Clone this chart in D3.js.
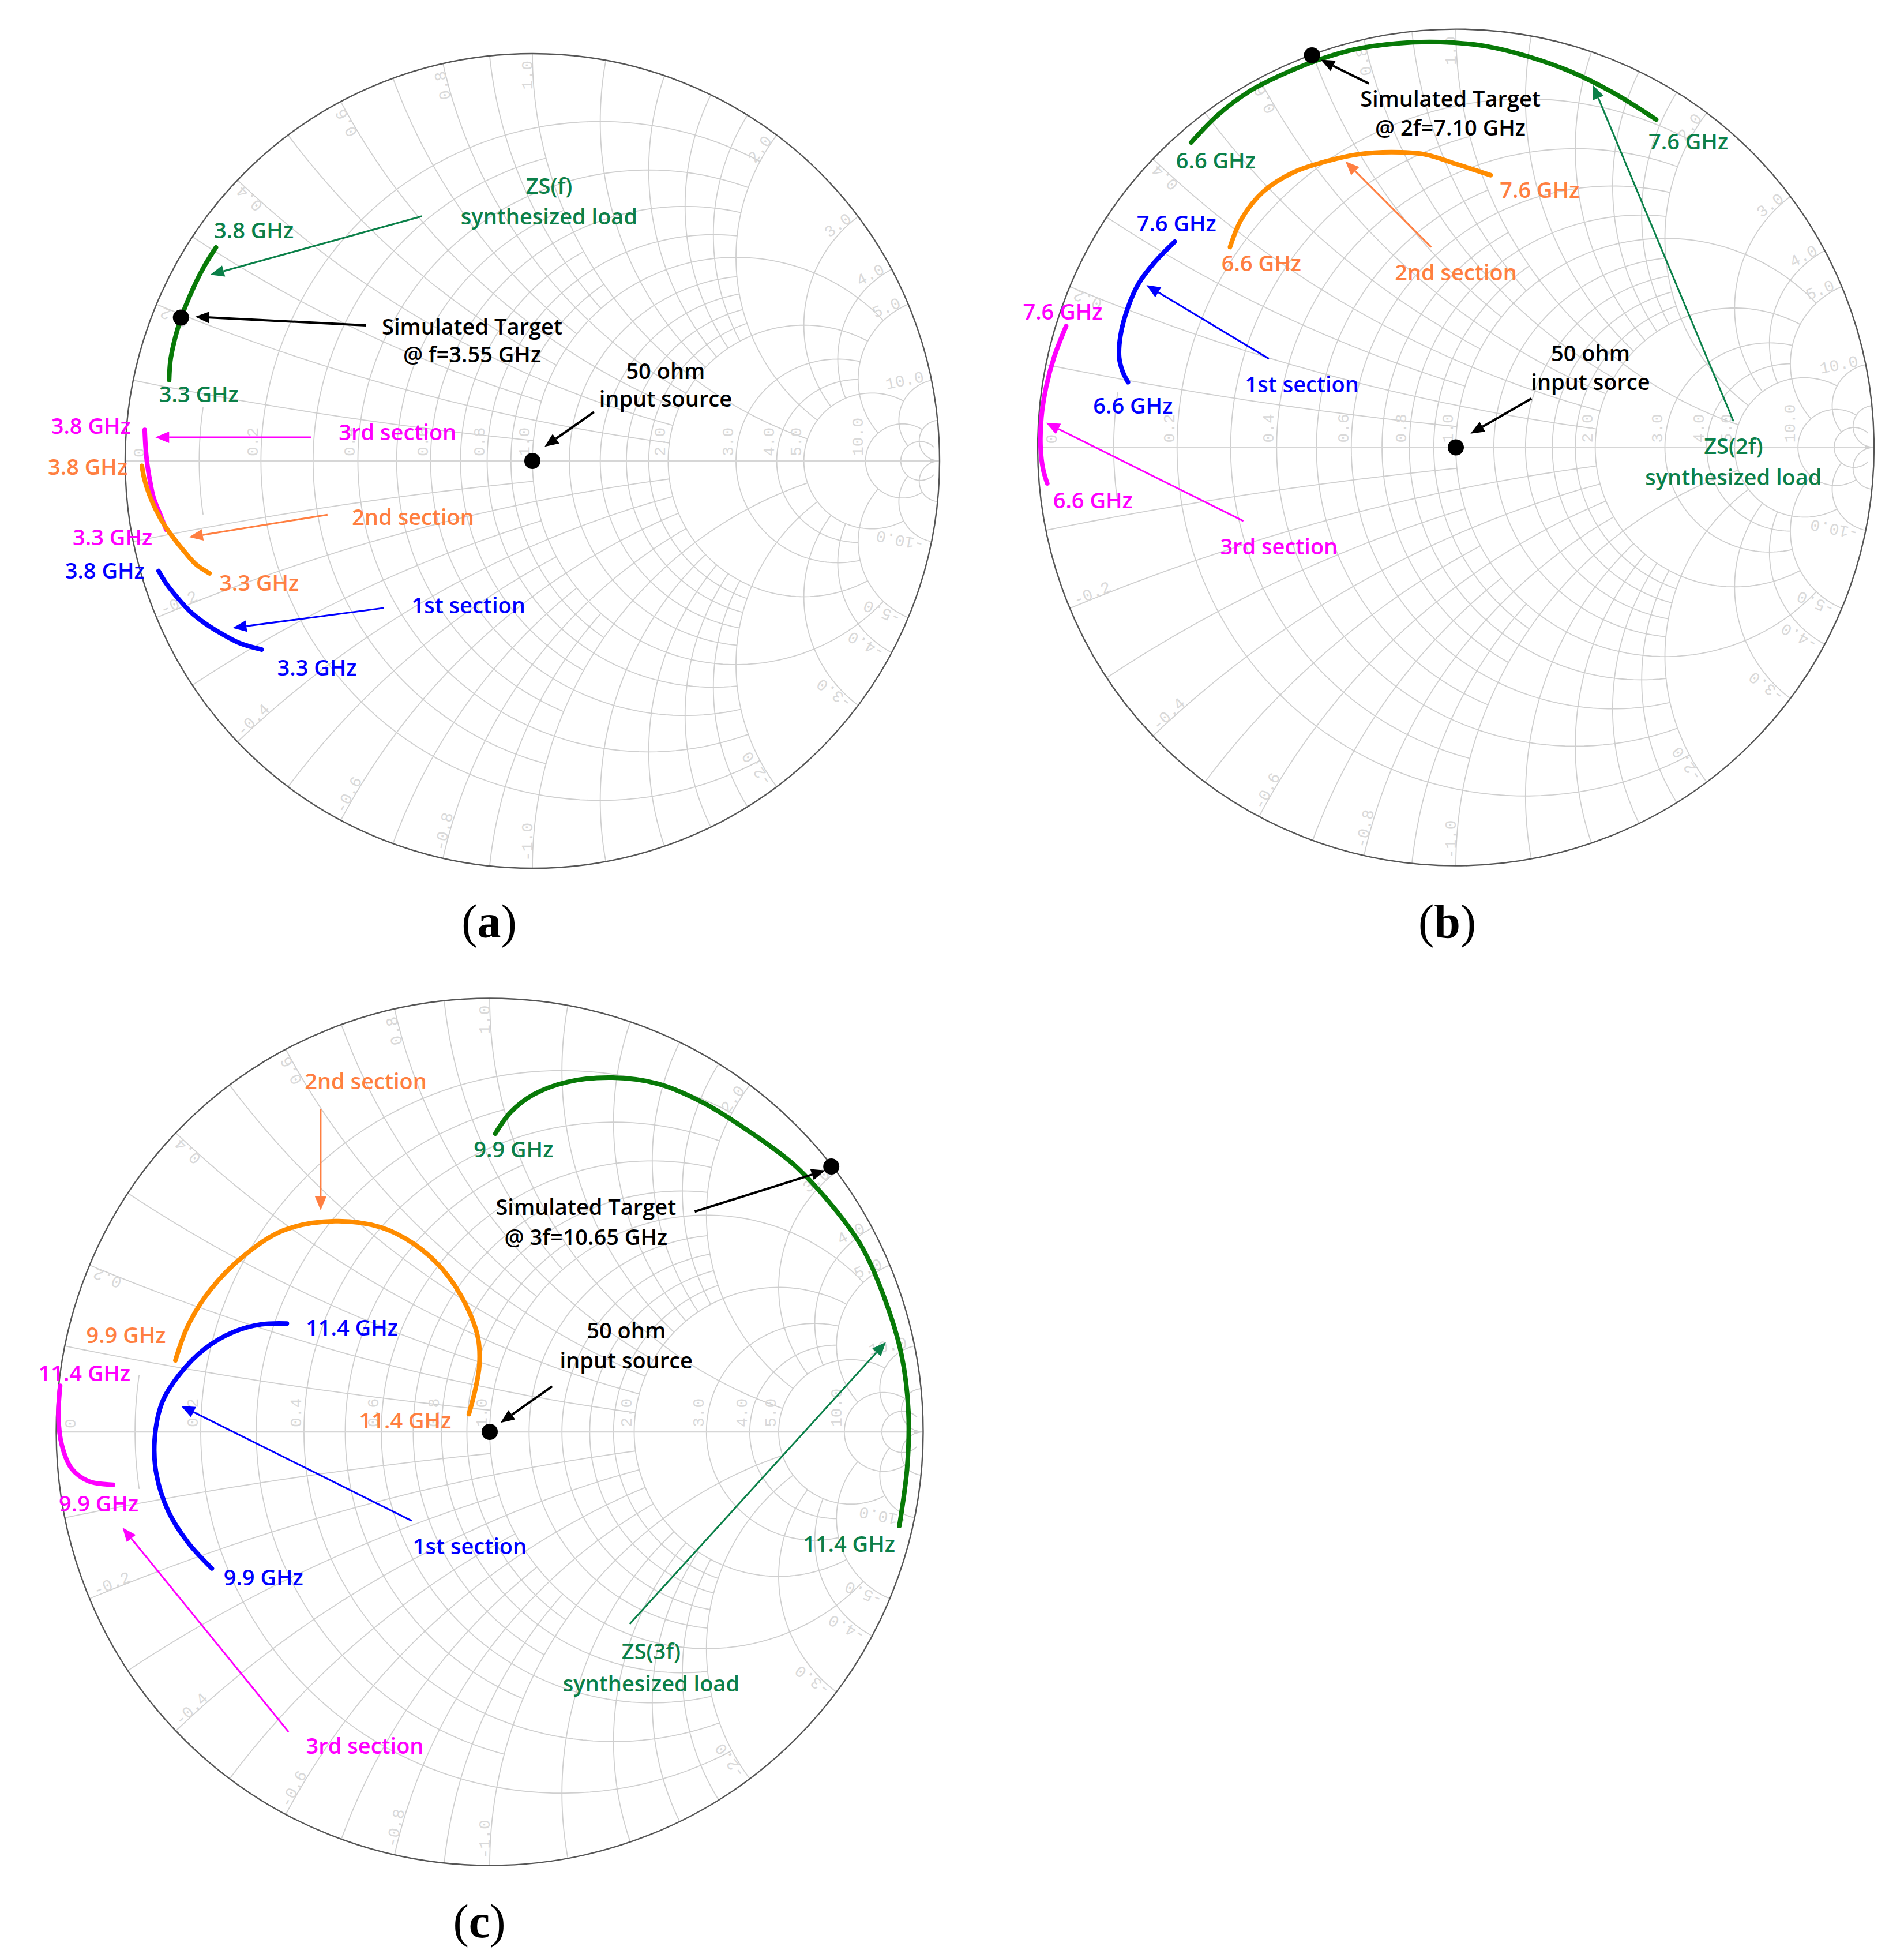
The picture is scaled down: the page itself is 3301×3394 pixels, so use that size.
<!DOCTYPE html>
<html>
<head>
<meta charset="utf-8">
<script src="https://cdnjs.cloudflare.com/ajax/libs/d3/7.8.5/d3.min.js"></script>
<style>
html, body { margin: 0; padding: 0; background: #fff; }
svg { display: block; }
</style>
</head>
<body>
<svg id="chart" width="3301" height="3394"></svg>
<script>
// all traces are reflection coefficients [re, im]

// panel (a) f
var aGreen = [[-.777,.524],[-.808,.474],[-.837,.415],[-.863,.350],[-.880,.291],[-.889,.245],[-.892,.199]];
var aMagenta = [[-.952,.076],[-.950,.036],[-.946,-.006],[-.939,-.049],[-.930,-.091],[-.915,-.129],[-.899,-.169]];
var aOrange = [[-.959,-.012],[-.953,-.044],[-.941,-.082],[-.925,-.119],[-.904,-.157],[-.882,-.188],[-.854,-.223],[-.826,-.254],[-.793,-.276]];
var aBlue = [[-.918,-.270],[-.899,-.301],[-.873,-.334],[-.840,-.370],[-.802,-.400],[-.760,-.426],[-.717,-.448],[-.665,-.463]];
var aTarget = [-.863,.352];

// panel (b) 2f
var bGreen = [[-.633,.729],[-.570,.794],[-.491,.853],[-.414,.892],[-.336,.924],[-.245,.951],[-.141,.966],[-.036,.969],[.068,.960],[.172,.935],[.276,.898],[.380,.846],[.479,.784]];
var bOrange = [[-.540,.479],[-.512,.547],[-.460,.612],[-.388,.658],[-.310,.684],[-.232,.701],[-.154,.706],[-.076,.701],[.003,.677],[.083,.651]];
var bBlue = [[-.672,.492],[-.720,.443],[-.759,.391],[-.785,.332],[-.802,.267],[-.805,.215],[-.797,.182],[-.784,.156]];
var bMagenta = [[-.932,.290],[-.961,.215],[-.980,.143],[-.991,.072],[-.993,0],[-.987,-.052],[-.977,-.086]];
var bTarget = [-.344,.9375];

// panel (c) 3f
var cGreen = [[.013,.688],[.048,.737],[.101,.778],[.179,.807],[.284,.817],[.388,.803],[.493,.759],[.597,.694],[.702,.616],[.793,.518],[.859,.426],[.911,.308],[.950,.178],[.966,.047],[.963,-.084],[.945,-.217]];
var cOrange = [[-.725,.165],[-.697,.243],[-.644,.328],[-.566,.407],[-.475,.465],[-.357,.486],[-.252,.472],[-.174,.433],[-.108,.374],[-.056,.295],[-.027,.217],[-.024,.152],[-.033,.099],[-.048,.041]];
var cBlue = [[-.468,.250],[-.527,.248],[-.592,.230],[-.658,.191],[-.716,.132],[-.756,.067],[-.773,-.018],[-.769,-.097],[-.742,-.182],[-.697,-.254],[-.641,-.315]];
var cMagenta = [[-.991,.106],[-.995,.034],[-.987,-.031],[-.965,-.084],[-.925,-.114],[-.869,-.122]];
var cTarget = [.788,.612];

var sourcePoint = [0,0];

// smith grid: each value and where its arc stops
var rGrid = [.1,.2,.3,.4,.5,.6,.7,.8,.9,1,1.2,1.4,1.6,1.8,2,3,4,5,10,20];
var rGridStop = [.08,2,1,2,1,2,1,2,1,5,2,2,2,2,5,5,5,10,20,50];
var xGrid = [.1,.2,.3,.4,.5,.6,.7,.8,.9,1,1.2,1.4,1.6,1.8,2,3,4,5,10,20];
var xGridStop = [1,2,1,2,1,2,1,2,1,5,2,2,2,2,5,5,5,10,20,100];
var rTicks = [.2,.4,.6,.8,1,2,3,4,5,10];
var xTicks = [.2,.4,.6,.8,1,2,3,4,5,10];

var colors = {
  green: "#0b8049", greenLine: "#087a08", orange: "#ff7f41", orangeLine: "#ff8c00",
  blue: "#0000ff", magenta: "#ff00ff", black: "#000"
};

// annotation layout, everything in reflection plane units so it goes through the scales
// [text, colour, re, im]
var aText = [
  ["ZS(f)","green",.041,.675],["synthesized load","green",.041,.600],
  ["3.8 GHz","green",-.684,.566],["3.3 GHz","green",-.819,.164],
  ["Simulated Target","black",-.148,.330],["@ f=3.55 GHz","black",-.148,.261],
  ["50 ohm","black",.327,.221],["input source","black",.327,.152],
  ["3rd section","magenta",-.331,.071],["2nd section","orange",-.293,-.138],
  ["1st section","blue",-.157,-.355],["3.3 GHz","orange",-.671,-.299],
  ["3.3 GHz","blue",-.529,-.508],["3.8 GHz","magenta",-1.084,.086],
  ["3.8 GHz","orange",-1.092,-.014],["3.3 GHz","magenta",-1.031,-.187],
  ["3.8 GHz","blue",-1.050,-.270]
];
var bText = [
  ["Simulated Target","black",-.013,.833],["@ 2f=7.10 GHz","black",-.013,.764],
  ["6.6 GHz","green",-.574,.686],["7.6 GHz","green",.556,.732],
  ["7.6 GHz","orange",.2005,.615],["6.6 GHz","orange",-.465,.441],
  ["2nd section","orange",0,.419],["7.6 GHz","blue",-.668,.536],
  ["6.6 GHz","blue",-.772,.100],["1st section","blue",-.368,.151],
  ["7.6 GHz","magenta",-.94,.325],["6.6 GHz","magenta",-.868,-.126],
  ["3rd section","magenta",-.423,-.237],["50 ohm","black",.322,.225],
  ["input sorce","black",.322,.156],["ZS(2f)","green",.664,.003],
  ["synthesized load","green",.664,-.072]
];
var cText = [
  ["2nd section","orange",-.286,.809],["9.9 GHz","green",.055,.651],
  ["Simulated Target","black",.222,.519],["@ 3f=10.65 GHz","black",.222,.450],
  ["11.4 GHz","blue",-.318,.2405],["9.9 GHz","orange",-.839,.2235],
  ["11.4 GHz","magenta",-.935,.135],["50 ohm","black",.315,.234],
  ["input source","black",.315,.165],["11.4 GHz","orange",-.195,.026],
  ["9.9 GHz","magenta",-.902,-.165],["1st section","blue",-.046,-.264],
  ["9.9 GHz","blue",-.522,-.336],["11.4 GHz","green",.829,-.259],
  ["ZS(3f)","green",.3725,-.506],["synthesized load","green",.3725,-.580],
  ["3rd section","magenta",-.288,-.724]
];
// [colour, from re, from im, to re, to im]
var aArrows = [
  ["green",-.271,.601,-.791,.457],["black",-.409,.333,-.828,.354],["black",.151,.120,.030,.035],
  ["magenta",-.544,.058,-.926,.058],["orange",-.503,-.132,-.843,-.187],["blue",-.365,-.361,-.736,-.410]
];
var bArrows = [
  ["black",-.208,.870,-.323,.927],["green",.664,.0625,.328,.866],["orange",-.059,.479,-.264,.684],
  ["blue",-.447,.212,-.740,.388],["magenta",-.508,-.176,-.980,.059],["black",.181,.117,.035,.033]
];
var cArrows = [
  ["orange",-.390,.744,-.390,.511],["black",.473,.508,.774,.603],["black",.144,.105,.025,.021],
  ["blue",-.180,-.205,-.712,.060],["magenta",-.464,-.692,-.847,-.221],["green",.323,-.443,.914,.207]
];

var panels = [
  {cx: 923, cy: 799, R: 706, green: aGreen, orange: aOrange, blue: aBlue, magenta: aMagenta, target: aTarget, text: aText, arrows: aArrows},
  {cx: 2524, cy: 775.6, R: 725, green: bGreen, orange: bOrange, blue: bBlue, magenta: bMagenta, target: bTarget, text: bText, arrows: bArrows},
  {cx: 849, cy: 2482, R: 751.5, green: cGreen, orange: cOrange, blue: cBlue, magenta: cMagenta, target: cTarget, text: cText, arrows: cArrows}
];
var panelLetters = [["a",848,1600],["b",2509,1600],["c",831,3333]];

// z -> reflection coefficient
function gamma(r, x) {
  var d = (r + 1) * (r + 1) + x * x;
  return [(r * r + x * x - 1) / d, 2 * x / d];
}
var svg = d3.select("#chart");
svg.append("rect").attr("width", 3301).attr("height", 3394).attr("fill", "#fff");

function fmt(v) { return d3.format(".1f")(v); }

panels.forEach(function (p) {
  var sx = d3.scaleLinear().domain([-1, 1]).range([p.cx - p.R, p.cx + p.R]);
  var sy = d3.scaleLinear().domain([-1, 1]).range([p.cy + p.R, p.cy - p.R]);
  var line = d3.line().x(function (d) { return sx(d[0]); }).y(function (d) { return sy(d[1]); });
  var smooth = d3.line().x(function (d) { return sx(d[0]); }).y(function (d) { return sy(d[1]); }).curve(d3.curveCatmullRom);
  var g = svg.append("g");

  var grid = g.append("g").attr("fill", "none").attr("stroke", "#cfcfcf").attr("stroke-width", 1.8);
  rGrid.forEach(function (r, i) {
    var tMax = Math.atan(rGridStop[i] / (1 + r));
    var pts = d3.range(-60, 61).map(function (k) {
      return gamma(r, (1 + r) * Math.tan(tMax * k / 60));
    });
    grid.append("path").attr("d", line(pts));
  });
  xGrid.forEach(function (x, i) {
    [1, -1].forEach(function (sign) {
      var u0 = Math.atan(1 / x), u1 = Math.atan((xGridStop[i] + 1) / x);
      var pts = d3.range(0, 61).map(function (k) {
        var r = x * Math.tan(u0 + (u1 - u0) * k / 60) - 1;
        return gamma(Math.max(r, 0), sign * x);
      });
      grid.append("path").attr("d", line(pts));
    });
  });

  // horizontal axis and the little arrow at its end
  g.append("line").attr("x1", sx(-1)).attr("x2", sx(1)).attr("y1", sy(0)).attr("y2", sy(0))
    .attr("stroke", "#d6d6d6").attr("stroke-width", 2.6);
  g.append("path")
    .attr("d", d3.line()([[sx(1), sy(0)], [sx(1) - 16, sy(0) - 4], [sx(1) - 16, sy(0) + 4]]) + "Z")
    .attr("fill", "#cfcfcf");

  // tick labels
  var ticks = g.append("g").attr("font-family", "'Liberation Mono', monospace").attr("font-size", 28)
    .attr("fill", "#d9d9d9");
  rTicks.forEach(function (r) {
    var px = sx((r - 1) / (r + 1)) - 5, py = sy(0) - 8;
    ticks.append("text").attr("transform", "translate(" + px + "," + py + ") rotate(-90)").text(fmt(r));
  });
  ticks.append("text").attr("transform", "translate(" + (sx(-1) + 33) + "," + (sy(0) - 6) + ") rotate(-90)").text("0");
  xTicks.forEach(function (x) {
    var ang = 2 * Math.atan(1 / x) * 180 / Math.PI;
    var e = gamma(0, x);
    var k = 1 - 12 / p.R;
    ticks.append("text").attr("text-anchor", "end")
      .attr("transform", "translate(" + sx(e[0] * k) + "," + sy(e[1] * k) + ") rotate(" + (-ang) + ")")
      .text(fmt(x));
    ticks.append("text").attr("text-anchor", "start")
      .attr("transform", "translate(" + sx(e[0] * k) + "," + sy(-e[1] * k) + ") rotate(" + (ang - 180) + ")")
      .text("-" + fmt(x));
  });

  g.append("circle").attr("cx", sx(0)).attr("cy", sy(0)).attr("r", p.R)
    .attr("fill", "none").attr("stroke", "#555").attr("stroke-width", 2.4);

  // traces
  [[p.green, "greenLine"], [p.magenta, "magenta"], [p.orange, "orangeLine"], [p.blue, "blue"]].forEach(function (t) {
    g.append("path").attr("d", smooth(t[0])).attr("fill", "none").attr("stroke", colors[t[1]])
      .attr("stroke-width", 8).attr("stroke-linecap", "round").attr("stroke-linejoin", "round");
  });

  // arrows
  p.arrows.forEach(function (a) {
    var x1 = sx(a[1]), y1 = sy(a[2]), x2 = sx(a[3]), y2 = sy(a[4]);
    var ang = Math.atan2(y2 - y1, x2 - x1), len = 24, w = 10;
    var bx = x2 - len * Math.cos(ang), by = y2 - len * Math.sin(ang);
    var col = colors[a[0]];
    g.append("line").attr("x1", x1).attr("y1", y1).attr("x2", bx).attr("y2", by)
      .attr("stroke", col).attr("stroke-width", a[0] == "black" ? 4 : 3);
    g.append("path").attr("fill", col)
      .attr("d", d3.line()([[x2, y2],
        [bx - w * Math.sin(ang), by + w * Math.cos(ang)],
        [bx + w * Math.sin(ang), by - w * Math.cos(ang)]]) + "Z");
  });

  // target and 50 ohm source
  [p.target, sourcePoint].forEach(function (d) {
    g.append("circle").attr("cx", sx(d[0])).attr("cy", sy(d[1])).attr("r", 14).attr("fill", "#000");
  });

  // labels
  p.text.forEach(function (t) {
    g.append("text").attr("x", sx(t[2])).attr("y", sy(t[3])).attr("dy", ".36em")
      .attr("text-anchor", "middle").attr("font-family", "'Open Sans', sans-serif")
      .attr("font-weight", 600).attr("font-size", 38).attr("fill", colors[t[1]]).text(t[0]);
  });
});

panelLetters.forEach(function (d) {
  var t = svg.append("text").attr("x", d[1]).attr("y", d[2]).attr("dy", ".3em").attr("text-anchor", "middle")
    .attr("font-family", "'Liberation Serif', serif").attr("font-size", 82).attr("fill", "#000");
  t.append("tspan").text("(");
  t.append("tspan").attr("font-weight", 700).text(d[0]);
  t.append("tspan").text(")");
});
</script>
</body>
</html>
